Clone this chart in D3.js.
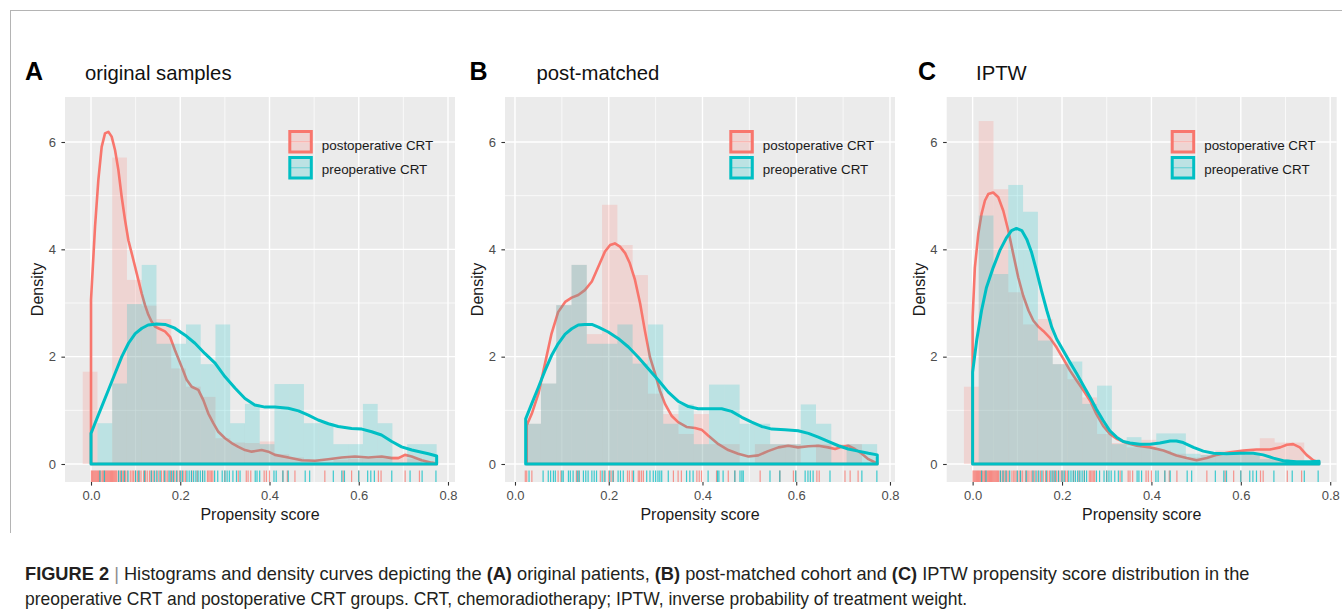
<!DOCTYPE html>
<html><head><meta charset="utf-8">
<script src="https://cdn.jsdelivr.net/npm/d3@7"></script>
<style>body{margin:0;background:#fff}svg{display:block}</style>
</head><body>
<svg id="chart" width="1342" height="614"></svg>
<script>
// ---------------- DATA ----------------
const panelLetters = ["A", "B", "C"];
const panelTitles = ["original samples", "post-matched", "IPTW"];
const seriesNames = ["postoperative CRT", "preoperative CRT"];
const yTicks = [0, 2, 4, 6];
const yMinor = [1, 3, 5];
const xTicks = [0, 0.2, 0.4, 0.6, 0.8];
const xTickLabels = ["0.0", "0.2", "0.4", "0.6", "0.8"];
const xMinor = [0.1, 0.3, 0.5, 0.7];
const xDomains = [[-0.0583, 0.8157], [-0.0213, 0.8107], [-0.058, 0.8145]];
const yDomain = [0, 6];

// histogram bins: start and width per panel
const histStart = [-0.0186, 0.0228, -0.0195];
const histWidth = [0.03305, 0.0326, 0.0331];

const histA_post = [1.72,0,5.71,3.43,2.95,2.70,1.78,1.44,1.25,0.48,0.40,0.39,0.42,0.18,0.12,0.06,0.04,0.08,0.10,0.10,0.14,0.14,0.10,0];
const histA_pre  = [0,0.76,1.50,2.98,3.71,2.24,2.24,2.60,1.86,2.60,0.76,1.12,0.37,1.49,1.49,0.76,0.76,0.37,0.37,1.12,0.76,0,0.37,0.37];
const histB_post = [0.75,1.50,2.96,3.71,2.42,4.83,4.08,3.52,1.31,0.93,0.56,0.93,0.37,0.37,0,0.37,0.37,0.37,0,0.37,0.37,0.37,0];
const histB_pre  = [0.75,1.50,2.96,3.71,2.24,2.24,2.60,1.87,2.60,0.75,1.11,0.37,1.48,1.48,0.75,0.75,0.37,0.37,1.11,0.75,0,0.37,0.37];
const histC_post = [1.44,6.39,5.12,3.20,2.60,2.70,1.86,1.58,1.24,0.56,0.39,0.31,0.45,0.25,0.19,0.12,0.17,0.25,0.25,0.28,0.48,0.40,0.40,0.05];
const histC_pre  = [0,4.63,3.54,5.20,4.70,2.30,1.86,1.91,1.12,1.46,0.37,0.50,0.31,0.57,0.57,0.19,0.17,0.19,0.19,0.17,0.09,0.09,0,0.05];

// density curves [x, density]
const densA_post = [[0,3.06],[0.009,4.42],[0.0164,5.29],[0.0239,5.91],[0.0314,6.16],[0.0388,6.19],[0.0463,6.10],[0.0538,5.85],[0.0613,5.48],[0.0687,4.98],[0.0762,4.55],[0.0837,4.17],[0.0911,3.93],[0.0986,3.68],[0.106,3.43],[0.1135,3.18],[0.121,2.96],[0.1285,2.78],[0.136,2.65],[0.1434,2.56],[0.1509,2.53],[0.1658,2.47],[0.177,2.37],[0.1882,2.12],[0.2032,1.81],[0.2144,1.57],[0.2256,1.44],[0.2405,1.38],[0.2517,1.19],[0.2629,0.94],[0.2741,0.76],[0.2853,0.60],[0.3003,0.48],[0.3152,0.39],[0.3302,0.32],[0.3451,0.26],[0.36,0.23],[0.3824,0.26],[0.3974,0.23],[0.4123,0.17],[0.4422,0.12],[0.4721,0.07],[0.502,0.06],[0.5318,0.09],[0.5617,0.12],[0.5916,0.14],[0.6215,0.12],[0.6514,0.14],[0.6738,0.11],[0.6887,0.11],[0.7036,0.17],[0.7186,0.14],[0.741,0.07],[0.7634,0.025],[0.7746,0.01]];
const densA_pre = [[0,0.57],[0.009,0.76],[0.024,1.07],[0.039,1.38],[0.054,1.69],[0.069,2.0],[0.084,2.25],[0.099,2.43],[0.114,2.53],[0.128,2.59],[0.147,2.61],[0.166,2.60],[0.188,2.53],[0.211,2.40],[0.233,2.25],[0.255,2.06],[0.278,1.88],[0.300,1.63],[0.323,1.41],[0.345,1.22],[0.367,1.10],[0.39,1.06],[0.412,1.06],[0.442,1.04],[0.465,0.99],[0.487,0.91],[0.509,0.82],[0.532,0.75],[0.554,0.70],[0.584,0.66],[0.607,0.65],[0.629,0.60],[0.651,0.54],[0.674,0.42],[0.696,0.32],[0.719,0.26],[0.741,0.22],[0.756,0.19],[0.7746,0.15]];
const densB_post = [[0.0249,0.72],[0.0356,0.93],[0.05,1.31],[0.064,1.87],[0.078,2.43],[0.092,2.83],[0.107,3.02],[0.121,3.10],[0.135,3.15],[0.149,3.24],[0.164,3.40],[0.178,3.68],[0.192,3.96],[0.203,4.08],[0.213,4.11],[0.224,4.05],[0.235,3.93],[0.245,3.74],[0.256,3.43],[0.267,2.99],[0.277,2.49],[0.288,1.99],[0.299,1.68],[0.309,1.37],[0.32,1.12],[0.334,0.90],[0.348,0.78],[0.366,0.69],[0.384,0.67],[0.398,0.64],[0.412,0.53],[0.434,0.37],[0.455,0.26],[0.476,0.19],[0.498,0.14],[0.519,0.16],[0.54,0.24],[0.562,0.31],[0.583,0.34],[0.604,0.31],[0.626,0.33],[0.647,0.34],[0.668,0.31],[0.683,0.28],[0.697,0.32],[0.711,0.34],[0.725,0.28],[0.74,0.19],[0.754,0.09],[0.7729,0.01]];
const densB_pre = [[0.0228,0.84],[0.0356,1.12],[0.05,1.43],[0.064,1.74],[0.078,2.02],[0.092,2.24],[0.107,2.42],[0.121,2.52],[0.135,2.59],[0.149,2.60],[0.164,2.60],[0.178,2.55],[0.199,2.46],[0.22,2.34],[0.242,2.18],[0.263,1.99],[0.284,1.78],[0.306,1.56],[0.327,1.34],[0.348,1.17],[0.37,1.07],[0.391,1.03],[0.412,1.03],[0.441,1.03],[0.462,0.98],[0.484,0.87],[0.505,0.78],[0.526,0.70],[0.548,0.65],[0.576,0.64],[0.604,0.62],[0.626,0.57],[0.647,0.50],[0.668,0.42],[0.69,0.34],[0.711,0.28],[0.732,0.24],[0.754,0.20],[0.7729,0.17]];
const densC_post = [[0,2.73],[0.005,3.66],[0.0127,4.29],[0.02,4.66],[0.0276,4.91],[0.035,5.03],[0.046,5.06],[0.0574,4.97],[0.0686,4.72],[0.0798,4.35],[0.091,3.91],[0.102,3.48],[0.113,3.14],[0.125,2.86],[0.136,2.67],[0.147,2.56],[0.158,2.48],[0.173,2.35],[0.188,2.17],[0.203,1.96],[0.218,1.74],[0.233,1.55],[0.248,1.37],[0.263,1.18],[0.277,0.93],[0.292,0.71],[0.307,0.56],[0.322,0.47],[0.345,0.39],[0.367,0.34],[0.397,0.31],[0.427,0.25],[0.456,0.16],[0.479,0.11],[0.501,0.07],[0.524,0.11],[0.546,0.17],[0.576,0.22],[0.606,0.25],[0.635,0.27],[0.665,0.27],[0.688,0.31],[0.703,0.36],[0.717,0.37],[0.732,0.31],[0.747,0.17],[0.762,0.07],[0.775,0.03]];
const densC_pre = [[0,1.71],[0.009,2.30],[0.02,2.86],[0.031,3.29],[0.046,3.66],[0.061,3.98],[0.076,4.22],[0.087,4.35],[0.098,4.39],[0.11,4.35],[0.121,4.19],[0.132,3.94],[0.143,3.60],[0.154,3.23],[0.166,2.86],[0.177,2.55],[0.188,2.33],[0.203,2.11],[0.218,1.89],[0.233,1.68],[0.248,1.46],[0.263,1.24],[0.277,1.02],[0.292,0.81],[0.307,0.62],[0.322,0.50],[0.337,0.42],[0.352,0.39],[0.374,0.37],[0.397,0.37],[0.419,0.39],[0.442,0.43],[0.456,0.43],[0.471,0.40],[0.494,0.31],[0.516,0.24],[0.539,0.20],[0.568,0.19],[0.598,0.20],[0.628,0.20],[0.65,0.17],[0.673,0.11],[0.695,0.06],[0.725,0.04],[0.755,0.04],[0.775,0.05]];

// rug positions (propensity scores)
const rugA_post = [0.001,0.003,0.005,0.007,0.009,0.011,0.013,0.015,0.017,0.019,0.022,0.025,0.027,0.029,0.032,0.034,0.036,0.038,0.040,0.042,0.044,0.046,0.048,0.050,0.052,0.054,0.056,0.058,0.062,0.066,0.070,0.073,0.077,0.081,0.088,0.092,0.095,0.099,0.104,0.108,0.112,0.118,0.122,0.126,0.131,0.135,0.139,0.146,0.152,0.158,0.163,0.168,0.172,0.178,0.183,0.188,0.193,0.198,0.202,0.208,0.212,0.226,0.238,0.250,0.261,0.264,0.267,0.270,0.273,0.300,0.330,0.348,0.352,0.358,0.388,0.393,0.400,0.430,0.440,0.457,0.524,0.565,0.584,0.600,0.644,0.650,0.704,0.736];
const rugA_pre = [0.020,0.030,0.062,0.068,0.075,0.083,0.100,0.107,0.120,0.135,0.142,0.148,0.155,0.165,0.175,0.180,0.185,0.192,0.200,0.205,0.215,0.220,0.225,0.230,0.235,0.240,0.245,0.250,0.255,0.277,0.284,0.294,0.300,0.305,0.310,0.318,0.326,0.334,0.368,0.372,0.378,0.410,0.415,0.430,0.442,0.480,0.490,0.543,0.562,0.568,0.600,0.620,0.627,0.635,0.674,0.715,0.742,0.773];
const rugB_post = [0.022,0.025,0.036,0.092,0.098,0.131,0.136,0.182,0.190,0.200,0.205,0.210,0.240,0.244,0.250,0.263,0.266,0.270,0.274,0.338,0.348,0.355,0.388,0.393,0.398,0.430,0.455,0.469,0.523,0.565,0.594,0.599,0.644,0.649,0.704,0.715,0.732];
const rugB_pre = [0.030,0.060,0.071,0.076,0.082,0.086,0.100,0.103,0.114,0.118,0.124,0.133,0.137,0.146,0.151,0.156,0.164,0.169,0.174,0.186,0.192,0.202,0.209,0.220,0.225,0.231,0.253,0.281,0.288,0.295,0.300,0.305,0.309,0.313,0.327,0.366,0.373,0.380,0.412,0.432,0.435,0.444,0.469,0.480,0.484,0.487,0.544,0.565,0.599,0.619,0.625,0.630,0.636,0.672,0.740,0.772];
const rugC_post = rugA_post;
const rugC_pre = rugA_pre;

const captionLine1 = [["FIGURE 2","b"],[" | ","sep"],["Histograms and density curves depicting the ",""],["(A)","b"],[" original patients, ",""],["(B)","b"],[" post-matched cohort and ",""],["(C)","b"],[" IPTW propensity score distribution in the",""]];
const captionLine2 = [["preoperative CRT and postoperative CRT groups. CRT, chemoradiotherapy; IPTW, inverse probability of treatment weight.",""]];

// ---------------- LAYOUT ----------------
const colors = ["#F8766D", "#00BFC4"];
const hists = [[histA_post, histA_pre], [histB_post, histB_pre], [histC_post, histC_pre]];
const dens = [[densA_post, densA_pre], [densB_post, densB_pre], [densC_post, densC_pre]];
const rugs = [[rugA_post, rugA_pre], [rugB_post, rugB_pre], [rugC_post, rugC_pre]];
const L = [
  {left: 65, right: 455, ylabX: 37.5, letterX: 25, titleX: 85, legX: 288.3},
  {left: 505, right: 895, ylabX: 477.5, letterX: 469.5, titleX: 536.5, legX: 729.3},
  {left: 946.7, right: 1336.7, ylabX: 919.5, letterX: 918, titleX: 976, legX: 1170.7}
];
const panelTop = 97, panelBottom = 482;
const font = "'Liberation Sans', Arial, Helvetica, sans-serif";

const svg = d3.select("#chart");
svg.append("rect").attr("width", 1342).attr("height", 614).attr("fill", "#fff");
// figure frame
svg.append("line").attr("x1", 10).attr("x2", 1342).attr("y1", 10.5).attr("y2", 10.5).attr("stroke", "#b4b4b4").attr("stroke-width", 1);
svg.append("line").attr("x1", 10.5).attr("x2", 10.5).attr("y1", 10).attr("y2", 533).attr("stroke", "#b4b4b4").attr("stroke-width", 1);

const ys = d3.scaleLinear().domain(yDomain).range([464, 142]);

panelLetters.forEach((letter, i) => {
  const lay = L[i];
  const xs = d3.scaleLinear().domain(xDomains[i]).range([lay.left, lay.right]);
  const g = svg.append("g");

  g.append("rect").attr("x", lay.left).attr("y", panelTop).attr("width", lay.right - lay.left)
    .attr("height", panelBottom - panelTop).attr("fill", "#EBEBEB");

  // grid
  g.append("g").selectAll("line").data(yMinor).join("line").attr("x1", lay.left).attr("x2", lay.right)
    .attr("y1", d => ys(d)).attr("y2", d => ys(d)).attr("stroke", "#fff").attr("stroke-width", 0.7);
  g.append("g").selectAll("line").data(xMinor).join("line").attr("y1", panelTop).attr("y2", panelBottom)
    .attr("x1", d => xs(d)).attr("x2", d => xs(d)).attr("stroke", "#fff").attr("stroke-width", 0.7);
  g.append("g").selectAll("line").data(yTicks).join("line").attr("x1", lay.left).attr("x2", lay.right)
    .attr("y1", d => ys(d)).attr("y2", d => ys(d)).attr("stroke", "#fff").attr("stroke-width", 1.4);
  g.append("g").selectAll("line").data(xTicks).join("line").attr("y1", panelTop).attr("y2", panelBottom)
    .attr("x1", d => xs(d)).attr("x2", d => xs(d)).attr("stroke", "#fff").attr("stroke-width", 1.4);

  const line = d3.line().x(d => xs(d[0])).y(d => ys(d[1]));

  [0, 1].forEach(s => {
    const bins = hists[i][s].map((v, k) => ({x0: histStart[i] + k * histWidth[i], x1: histStart[i] + (k + 1) * histWidth[i], v}))
      .filter(b => b.v > 0);
    g.append("g").selectAll("rect").data(bins).join("rect")
      .attr("x", b => xs(b.x0)).attr("width", b => xs(b.x1) - xs(b.x0))
      .attr("y", b => ys(b.v)).attr("height", b => ys(0) - ys(b.v))
      .attr("fill", colors[s]).attr("fill-opacity", 0.2);
    const pts = dens[i][s];
    const poly = [[pts[0][0], 0], ...pts, [pts[pts.length - 1][0], 0]];
    g.append("path").attr("d", line(poly) + "Z").attr("fill", "none")
      .attr("stroke", colors[s]).attr("stroke-width", s === 0 ? 2.6 : 3)
      .attr("stroke-linejoin", "round");
  });

  // rugs
  [0, 1].forEach(s => {
    g.append("g").selectAll("line").data(rugs[i][s]).join("line")
      .attr("x1", d => xs(d)).attr("x2", d => xs(d))
      .attr("y1", panelBottom).attr("y2", panelBottom - 11.5)
      .attr("stroke", colors[s]).attr("stroke-width", 1.2).attr("stroke-opacity", 0.75);
  });

  // axes
  const ya = g.append("g").attr("transform", `translate(${lay.left},0)`)
    .call(d3.axisLeft(ys).tickValues(yTicks).tickFormat(d3.format("d")).tickSize(3.6).tickPadding(5.5).tickSizeOuter(0));
  const xa = g.append("g").attr("transform", `translate(0,${panelBottom})`)
    .call(d3.axisBottom(xs).tickValues(xTicks).tickFormat((d, k) => xTickLabels[k]).tickSize(3.6).tickPadding(5).tickSizeOuter(0));
  [ya, xa].forEach(a => {
    a.select(".domain").remove();
    a.selectAll(".tick line").attr("stroke", "#333").attr("stroke-width", 1.1);
    a.selectAll(".tick text").attr("fill", "#4D4D4D").style("font-family", font).style("font-size", "13px");
  });

  // axis titles
  g.append("text").attr("transform", `translate(${lay.ylabX},${(panelTop + panelBottom) / 2}) rotate(-90)`)
    .attr("text-anchor", "middle").attr("dy", "0.36em").style("font-family", font).style("font-size", "16px")
    .attr("fill", "#1a1a1a").text("Density");
  g.append("text").attr("x", (lay.left + lay.right) / 2).attr("y", 520).attr("text-anchor", "middle")
    .style("font-family", font).style("font-size", "16px").attr("fill", "#1a1a1a").text("Propensity score");

  // panel letter & title
  g.append("text").attr("x", lay.letterX).attr("y", 79.5).style("font-family", font).style("font-size", "25px")
    .style("font-weight", "bold").attr("fill", "#000").text(letter);
  g.append("text").attr("x", lay.titleX).attr("y", 79.5).style("font-family", font).style("font-size", "20.3px")
    .attr("fill", "#111").text(panelTitles[i]);

  // legend
  seriesNames.forEach((name, s) => {
    const y0 = 131.5 + s * 26;
    g.append("rect").attr("x", lay.legX + 1.5).attr("y", y0).attr("width", 21.5).attr("height", 20.5)
      .attr("fill", colors[s]).attr("fill-opacity", 0.2).attr("stroke", colors[s]).attr("stroke-width", 3);
    g.append("line").attr("x1", lay.legX + 1.5).attr("x2", lay.legX + 23).attr("y1", y0 + 10.25).attr("y2", y0 + 10.25)
      .attr("stroke", colors[s]).attr("stroke-opacity", 0.45).attr("stroke-width", 1.1);
    g.append("text").attr("x", lay.legX + 33.5).attr("y", 149.8 + s * 24.3).style("font-family", font)
      .style("font-size", "13.4px").attr("fill", "#1a1a1a").text(name);
  });
});

// caption
function captionLine(parts, y, targetW) {
  const t = svg.append("text").attr("x", 0).attr("y", 0)
    .style("font-family", "'Liberation Sans Narrow', 'Liberation Sans', Arial, sans-serif")
    .style("font-size", "18px").attr("fill", "#231f20").style("white-space", "pre");
  parts.forEach(p => {
    const ts = t.append("tspan").text(p[0]);
    if (p[1] === "b") ts.style("font-weight", "bold");
    if (p[1] === "sep") ts.attr("fill", "#8c8c8c").style("font-weight", "300");
  });
  const w = t.node().getBBox().width;
  t.attr("transform", `translate(25,${y}) scale(${targetW / w},1)`);
}
captionLine(captionLine1, 579.5, 1225);
captionLine(captionLine2, 604.5, 943);
</script>
</body></html>
